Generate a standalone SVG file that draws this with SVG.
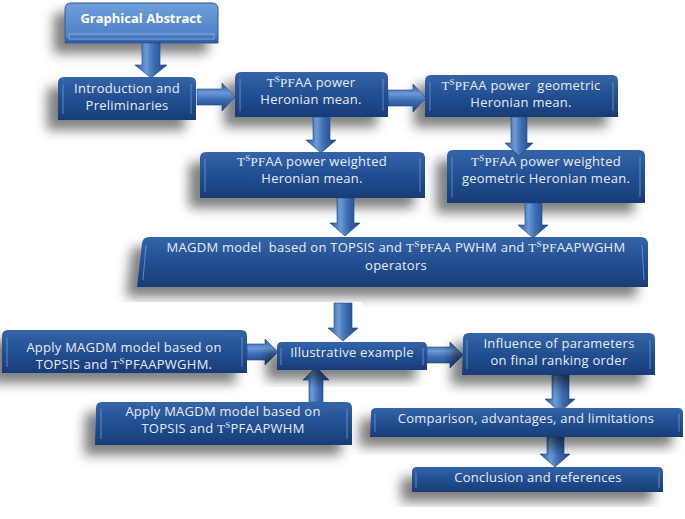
<svg xmlns="http://www.w3.org/2000/svg" width="685" height="519" viewBox="0 0 685 519">
<defs>
<linearGradient id="boxGrad" x1="0" y1="0" x2="0" y2="1">
<stop offset="0" stop-color="#3465a8"/>
<stop offset="0.5" stop-color="#234f91"/>
<stop offset="1" stop-color="#183c78"/>
</linearGradient>
<linearGradient id="gaGrad" x1="0" y1="0" x2="0" y2="1">
<stop offset="0" stop-color="#6f9fdc"/>
<stop offset="0.8" stop-color="#4f82c6"/>
<stop offset="1" stop-color="#2f5a9c"/>
</linearGradient>
<linearGradient id="arrV" x1="0" y1="0" x2="1" y2="0">
<stop offset="0" stop-color="#2a5597"/>
<stop offset="0.35" stop-color="#6a9ad6"/>
<stop offset="0.6" stop-color="#3b6ab0"/>
<stop offset="1" stop-color="#1f4785"/>
</linearGradient>
<linearGradient id="arrH" x1="0" y1="0" x2="0" y2="1">
<stop offset="0" stop-color="#2a5597"/>
<stop offset="0.35" stop-color="#6a9ad6"/>
<stop offset="0.6" stop-color="#3b6ab0"/>
<stop offset="1" stop-color="#1f4785"/>
</linearGradient>
<filter id="sh" x="-20%" y="-30%" width="140%" height="190%">
<feDropShadow dx="-11" dy="10" stdDeviation="6" flood-color="#000" flood-opacity="0.5"/>
</filter>
</defs>
<style>
.box{fill:url(#boxGrad);filter:url(#sh)}
.ga{fill:url(#gaGrad);filter:url(#sh);stroke:#2c5796;stroke-width:1}
.hl{stroke:#6f9ad2;stroke-width:1;fill:none;opacity:0.8}
.t{font-family:"Open Sans","Liberation Sans",Arial,sans-serif;font-size:13px;letter-spacing:0.25px;fill:#e6ecf6;text-anchor:middle}
.s{font-family:"Liberation Serif","Times New Roman",serif}
.b{font-weight:bold;fill:#ffffff;letter-spacing:0}
.av{fill:url(#arrV);stroke:#1d4480;stroke-width:0.6}
.ah{fill:url(#arrH);stroke:#1d4480;stroke-width:0.6}
</style>
<rect width="685" height="519" fill="#ffffff"/>

<g id="n-ga">
<path class="ga" d="M65 9 Q65 3 71 3 H212 Q218 3 218 9 V43 H65 Z"/>
<rect x="69" y="34" width="145" height="5" fill="none" stroke="#8fb6e6" stroke-width="0.8"/>
<text class="t b" x="141" y="23">Graphical Abstract</text>
</g>

<g id="n-intro">
<path class="box" d="M58 83 Q58 77 64 77 H190 Q196 77 196 83 V120 H58 Z"/>
<path class="hl" d="M63 84 V114 M191 84 V114"/>
<text class="t" x="127" y="93">Introduction and</text>
<text class="t" x="127" y="110">Preliminaries</text>
</g>

<g id="n-heron">
<path class="box" d="M235 78 Q235 72 241 72 H382 Q388 72 388 78 V117 H235 Z"/>
<path class="hl" d="M240 79 V111 M383 79 V111"/>
<text class="t" x="311" y="87"><tspan class="s">T</tspan><tspan class="s" font-size="9" dy="-5">S</tspan><tspan class="s" dy="5">PF</tspan>AA power</text>
<text class="t" x="311" y="104">Heronian mean.</text>
</g>

<g id="n-geo">
<path class="box" d="M425 81 Q425 75 431 75 H612 Q618 75 618 81 V117 H425 Z"/>
<path class="hl" d="M430 82 V111 M613 82 V111"/>
<text class="t" x="521" y="90" xml:space="preserve"><tspan class="s">T</tspan><tspan class="s" font-size="9" dy="-5">S</tspan><tspan class="s" dy="5">PF</tspan>AA power  geometric</text>
<text class="t" x="521" y="107">Heronian mean.</text>
</g>

<g id="n-wh">
<path class="box" d="M200 158 Q200 152 206 152 H419 Q425 152 425 158 V198 H200 Z"/>
<path class="hl" d="M205 159 V192 M420 159 V192"/>
<text class="t" x="312" y="166"><tspan class="s">T</tspan><tspan class="s" font-size="9" dy="-5">S</tspan><tspan class="s" dy="5">PF</tspan>AA power weighted</text>
<text class="t" x="312" y="183">Heronian mean.</text>
</g>

<g id="n-wgh">
<path class="box" d="M447 156 Q447 150 453 150 H639 Q645 150 645 156 V203 H447 Z"/>
<path class="hl" d="M452 157 V197 M640 157 V197"/>
<text class="t" x="546" y="166"><tspan class="s">T</tspan><tspan class="s" font-size="9" dy="-5">S</tspan><tspan class="s" dy="5">PF</tspan>AA power weighted</text>
<text class="t" x="546" y="183">geometric Heronian mean.</text>
</g>

<g id="n-magdm">
<path class="box" d="M142 243 Q143 237 149 237 H641 Q647 237 648 243 V287 H137 Z"/>
<path class="hl" d="M146 245 L143 280 M642 245 L644 280"/>
<text class="t" x="396" y="252" xml:space="preserve">MAGDM model  based on TOPSIS and <tspan class="s">T</tspan><tspan class="s" font-size="9" dy="-5">S</tspan><tspan class="s" dy="5">PF</tspan>AA PWHM and <tspan class="s">T</tspan><tspan class="s" font-size="9" dy="-5">S</tspan><tspan class="s" dy="5">PF</tspan>AAPWGHM</text>
<text class="t" x="396" y="270">operators</text>
</g>

<rect x="0" y="302" width="362" height="26" fill="#ffffff"/>

<g id="connectors">
<path class="av" d="M142 43 H160 V65 H167 L151 78 L135 65 H142 Z"/>
<path class="ah" d="M197 89 H222 V83 L235 97 L222 111 V105 H197 Z"/>
<path class="ah" d="M388 90 H413 V84 L426 98 L413 112 V106 H388 Z"/>
<path class="av" d="M313 117 H330 V140 H336 L321 153 L306 140 H313 Z"/>
<path class="av" d="M511 117 H527 V143 H533 L519 156 L505 143 H511 Z"/>
<path class="av" d="M337 198 H354 V223 H360 L345 236 L330 223 H337 Z"/>
<path class="av" d="M525 203 H542 V225 H548 L533 238 L518 225 H525 Z"/>
<path class="av" d="M334 303 H352 V328 H358 L343 341 L328 328 H334 Z"/>
<path class="ah" d="M247 344 H265 V339 L278 352 L265 365 V360 H247 Z"/>
<path class="av" d="M309 402 V380 H303 L316 367 L329 380 H323 V402 Z"/>
<path class="ah" d="M427 347 H450 V342 L463 355 L450 368 V363 H427 Z"/>
<path class="av" d="M552 375 H569 V399 H575 L560 412 L545 399 H552 Z"/>
<path class="av" d="M547 437 H564 V454 H570 L555 467 L540 454 H547 Z"/>
</g>

<g id="n-pwghm">
<path class="box" d="M2 336 Q2 330 8 330 H241 Q247 330 247 336 V373 H2 Z"/>
<path class="hl" d="M7 337 V367 M242 337 V367"/>
<text class="t" x="124" y="352">Apply MAGDM model based on</text>
<text class="t" x="124" y="369">TOPSIS and <tspan class="s">T</tspan><tspan class="s" font-size="9" dy="-5">S</tspan><tspan dy="5">PFAAPWGHM.</tspan></text>
</g>

<g id="n-illus">
<path class="box" d="M277 347 Q277 342 282 342 H422 Q427 342 427 347 V370 H277 Z"/>
<path class="hl" d="M281 348 V365 M423 348 V365"/>
<text class="t" x="352" y="357">Illustrative example</text>
</g>

<g id="n-pwhm">
<path class="box" d="M96 408 Q96 402 102 402 H346 Q352 402 352 408 V445 H95 Z"/>
<path class="hl" d="M101 409 V439 M347 409 V439"/>
<text class="t" x="223" y="416">Apply MAGDM model based on</text>
<text class="t" x="223" y="433">TOPSIS and <tspan class="s">T</tspan><tspan class="s" font-size="9" dy="-5">S</tspan><tspan dy="5">PFAAPWHM</tspan></text>
</g>

<g id="n-infl">
<path class="box" d="M463 339 Q463 333 469 333 H649 Q655 333 655 339 V375 H462 Z"/>
<path class="hl" d="M467 340 V369 M650 340 V369"/>
<text class="t" x="559" y="348">Influence of parameters</text>
<text class="t" x="559" y="365">on final ranking order</text>
</g>

<g id="n-comp">
<path class="box" d="M371 413 Q371 408 376 408 H678 Q683 408 683 413 V437 H370 Z"/>
<path class="hl" d="M375 414 V432 M679 414 V432"/>
<text class="t" x="526" y="423">Comparison, advantages, and limitations</text>
</g>

<g id="n-concl">
<path class="box" d="M412 472 Q412 467 417 467 H658 Q663 467 663 472 V492 H412 Z"/>
<path class="hl" d="M416 473 V488 M659 473 V488"/>
<text class="t" x="538" y="482">Conclusion and references</text>
</g>
</svg>
